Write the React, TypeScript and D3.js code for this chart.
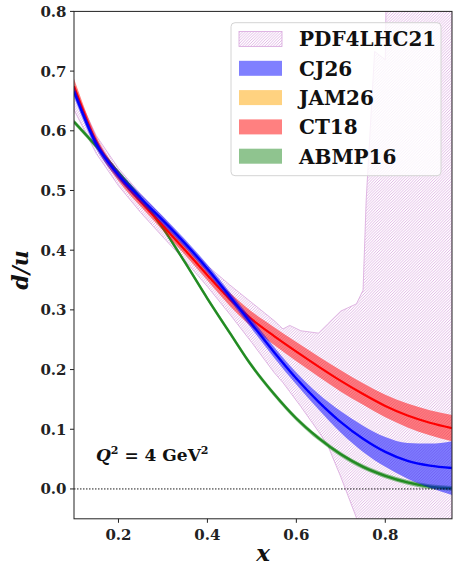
import React from "react";
import * as d3 from "d3";

// common x grid for the smooth curves
const xGrid = [0.1, 0.15, 0.2, 0.25, 0.3, 0.35, 0.4, 0.45, 0.5, 0.55, 0.6, 0.65, 0.7, 0.75, 0.8, 0.85, 0.9, 0.95];

const cj26 = [0.666, 0.578, 0.526, 0.487, 0.45, 0.411, 0.369, 0.323, 0.276, 0.229, 0.185, 0.146, 0.112, 0.084, 0.062, 0.047, 0.039, 0.035];
const cj26Err = [0.009, 0.008, 0.007, 0.007, 0.007, 0.007, 0.007, 0.007, 0.008, 0.009, 0.01, 0.013, 0.018, 0.022, 0.025, 0.03, 0.037, 0.045];

const ct18 = [0.675, 0.582, 0.524, 0.481, 0.441, 0.4, 0.358, 0.318, 0.284, 0.256, 0.23, 0.205, 0.181, 0.159, 0.139, 0.123, 0.111, 0.102];
const ct18Err = [0.012, 0.009, 0.008, 0.008, 0.008, 0.008, 0.009, 0.011, 0.013, 0.015, 0.016, 0.017, 0.018, 0.018, 0.019, 0.02, 0.021, 0.022];

const abmp16 = [0.615, 0.574, 0.53, 0.487, 0.437, 0.379, 0.319, 0.262, 0.206, 0.159, 0.118, 0.085, 0.058, 0.037, 0.022, 0.011, 0.004, 0.001];
const abmp16Err = [0.004, 0.004, 0.004, 0.004, 0.004, 0.004, 0.004, 0.004, 0.004, 0.004, 0.004, 0.004, 0.004, 0.004, 0.004, 0.004, 0.004, 0.004];

// PDF4LHC21 band (coarse grid, edges)
const pdfX = [0.1, 0.15, 0.2, 0.25, 0.3, 0.35, 0.4, 0.45, 0.5, 0.55, 0.57, 0.585, 0.61, 0.65, 0.67, 0.7, 0.735, 0.75, 0.757, 0.776, 0.8, 0.803, 0.95];
const pdfHi = [0.672, 0.592, 0.537, 0.494, 0.455, 0.414, 0.374, 0.342, 0.312, 0.282, 0.268, 0.274, 0.265, 0.261, 0.276, 0.298, 0.31, 0.333, 0.484, 0.733, 0.719, 0.9, 0.9];
const pdfLo = [0.635, 0.562, 0.508, 0.463, 0.422, 0.382, 0.339, 0.293, 0.245, 0.195, 0.178, 0.163, 0.138, 0.096, 0.074, 0.02, -0.048, -0.08, -0.09, -0.12, -0.16, -0.16, -0.3];

const yTicks = [0.0, 0.1, 0.2, 0.3, 0.4, 0.5, 0.6, 0.7, 0.8];
const xTicks = [0.2, 0.4, 0.6, 0.8];

const legendItems = [
  { label: "PDF4LHC21", fill: "url(#hatch)", stroke: "#d8a6dc" },
  { label: "CJ26", fill: "#8080ff", stroke: "none" },
  { label: "JAM26", fill: "#ffd280", stroke: "none" },
  { label: "CT18", fill: "#ff8080", stroke: "none" },
  { label: "ABMP16", fill: "#8fc48f", stroke: "none" },
];

const W = 459;
const H = 568;
const left = 74, right = 452, top = 11.4, bottom = 518.8;

export default function App() {
  const x = d3.scaleLinear().domain([0.1, 0.95]).range([left, right]);
  const y = d3.scaleLinear().domain([-0.05, 0.8]).range([bottom, top]);

  const band = (vals, errs) =>
    d3
      .area<number>()
      .x((d, i) => x(xGrid[i]))
      .y0((d, i) => y(vals[i] - errs[i]))
      .y1((d, i) => y(vals[i] + errs[i]))
      .curve(d3.curveMonotoneX)(vals);

  const line = (vals) =>
    d3
      .line<number>()
      .x((d, i) => x(xGrid[i]))
      .y((d) => y(d))
      .curve(d3.curveMonotoneX)(vals);

  const pdfArea = d3
    .area<number>()
    .x((d) => x(d))
    .y0((d, i) => y(pdfLo[i]))
    .y1((d, i) => y(pdfHi[i]))(pdfX);

  const font = "'DejaVu Serif', serif";

  return (
    <svg width={W} height={H} style={{ position: "absolute", left: 0, top: 0, background: "#fff" }}>
      <defs>
        <clipPath id="plot">
          <rect x={left} y={top} width={right - left} height={bottom - top} />
        </clipPath>
        <pattern id="hatch" patternUnits="userSpaceOnUse" width={2.8} height={2.8}>
          <path d="M-0.7,0.7 L0.7,-0.7 M0,2.8 L2.8,0 M2.1,3.5 L3.5,2.1" stroke="#d6a0dc" strokeWidth={0.75} />
        </pattern>
      </defs>

      <g clipPath="url(#plot)">
        <path d={pdfArea} fill="url(#hatch)" stroke="#d8a6dc" strokeWidth={0.8} />

        <path d={band(abmp16, abmp16Err)} fill="#228b22" fillOpacity={0.5} />
        <path d={line(abmp16)} fill="none" stroke="#228b22" strokeWidth={2.3} />

        <path d={band(ct18, ct18Err)} fill="#ff0000" fillOpacity={0.5} />
        <path d={line(ct18)} fill="none" stroke="#ff0000" strokeWidth={2.2} />

        <path d={band(cj26, cj26Err)} fill="#0000ff" fillOpacity={0.5} />
        <path d={line(cj26)} fill="none" stroke="#0000ff" strokeWidth={2.4} />

        <line x1={left} x2={right} y1={y(0)} y2={y(0)} stroke="#000" strokeWidth={0.9} strokeDasharray="1.5,1.5" />
      </g>

      {/* frame */}
      <rect x={left} y={top} width={right - left} height={bottom - top} fill="none" stroke="#222" strokeWidth={1} />

      {yTicks.map((t) => (
        <g key={"y" + t}>
          <line x1={left - 4} x2={left} y1={y(t)} y2={y(t)} stroke="#222" />
          <text x={66.5} y={y(t) + 5.5} textAnchor="end" fontFamily={font} fontWeight="bold" fontSize={15} fill="#222">
            {t.toFixed(1)}
          </text>
        </g>
      ))}
      {xTicks.map((t) => (
        <g key={"x" + t}>
          <line x1={x(t)} x2={x(t)} y1={bottom} y2={bottom + 4} stroke="#222" />
          <text x={x(t)} y={539.5} textAnchor="middle" fontFamily={font} fontWeight="bold" fontSize={15} fill="#222">
            {t.toFixed(1)}
          </text>
        </g>
      ))}

      <text x={263} y={561} textAnchor="middle" fontFamily={font} fontWeight="bold" fontStyle="italic" fontSize={23} fill="#111">
        x
      </text>
      <text
        transform="translate(28,270) rotate(-90)"
        textAnchor="middle"
        fontFamily={font}
        fontWeight="bold"
        fontStyle="italic"
        fontSize={22}
        fill="#111"
      >
        d/u
      </text>

      <text x={96} y={461} fontFamily={font} fontWeight="bold" fontSize={17} fill="#111">
        <tspan fontStyle="italic">Q</tspan>
        <tspan dy={-7} fontSize={11}>2</tspan>
        <tspan dy={7}> = 4 GeV</tspan>
        <tspan dy={-7} fontSize={11}>2</tspan>
      </text>

      {/* legend */}
      <rect x={231} y={22.7} width={210} height={153} rx={4} fill="#fff" fillOpacity={0.8} stroke="#d4d4d4" strokeWidth={1} />
      {legendItems.map((d, i) => {
        const cy = 39 + i * 29.3;
        return (
          <g key={d.label}>
            <rect x={239} y={cy - 7.5} width={43} height={15} fill={d.fill} stroke={d.stroke} strokeWidth={0.8} />
            <text x={299} y={cy + 7.3} fontFamily={font} fontWeight="bold" fontSize={20} fill="#111">
              {d.label}
            </text>
          </g>
        );
      })}
    </svg>
  );
}
